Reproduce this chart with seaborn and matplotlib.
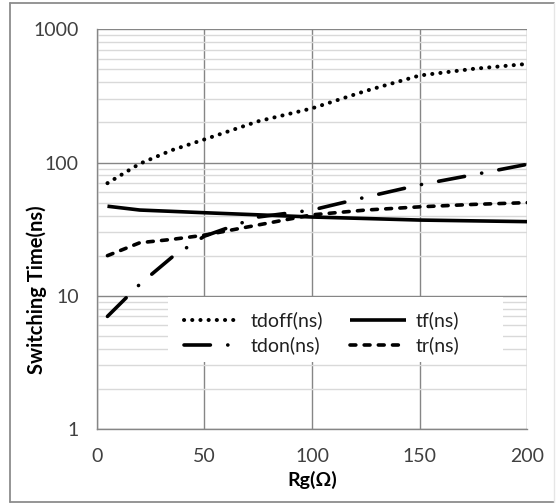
import numpy as np
import pandas as pd
import seaborn as sns
import matplotlib
matplotlib.use("Agg")
import matplotlib.pyplot as plt
from matplotlib.patches import Rectangle
from matplotlib.lines import Line2D
from matplotlib.ticker import LogLocator, FixedLocator, NullFormatter

# ---- data ----
rg = [5, 20, 35, 50, 75, 100, 125, 150, 175, 200]
tdoff = [70, 98, 124, 149, 204, 255, 345, 450, 505, 550]
tf = [47, 44, 43, 42, 40.5, 39, 38, 37, 36.5, 36]
tdon = [7, 12.2, 19.5, 28, 39, 44, 55, 68, 81, 97]
tr = [20, 25, 26.5, 28.5, 34, 40.5, 44, 46.5, 48.5, 50]
series_names = ["tdoff(ns)", "tf(ns)", "tdon(ns)", "tr(ns)"]
x_ticks = [0, 50, 100, 150, 200]
y_ticks = [1, 10, 100, 1000]
y_ticklabels = ["1", "10", "100", "1000"]

sns.set_style("white")
plt.rcParams["font.family"] = ["Lato", "DejaVu Sans"]
plt.rcParams["lines.scale_dashes"] = False

W, H = 556, 504
fig = plt.figure(figsize=(W / 100, H / 100), dpi=100)
L, R, T, B = 96.7, 527.3, 29.3, 429.0
ax = fig.add_axes([L / W, 1 - B / H, (R - L) / W, (B - T) / H])

df = pd.DataFrame({"Rg": rg, "tdoff": tdoff, "tf": tf, "tdon": tdon, "tr": tr})

styles = {
    "tdoff": dict(lw=2.9, ls=(0, (0.1, 5.8)), cap="round"),
    "tf": dict(lw=2.6, ls="-", cap="butt"),
    "tdon": dict(lw=2.6, ls=(0, (19.0, 12.5, 0.1, 12.5)), cap="round"),
    "tr": dict(lw=2.6, ls=(0, (4.2, 6.0)), cap="round"),
}
handles = {}
for key, name in zip(["tdoff", "tf", "tdon", "tr"], series_names):
    st = styles[key]
    sns.lineplot(data=df, x="Rg", y=key, ax=ax, color="black", lw=st["lw"], zorder=3)
    ln = ax.lines[-1]
    ln.set_linestyle(st["ls"])
    ln.set_dash_capstyle(st["cap"])
    ln.set_solid_capstyle("butt")
    ln.set_label(name)
    handles[key] = ln

ax.set_yscale("log")
ax.set_xlim(0, 200)
ax.set_ylim(1, 1000)
ax.xaxis.set_major_locator(FixedLocator(x_ticks))
ax.set_xticklabels([str(v) for v in x_ticks])
ax.yaxis.set_major_locator(FixedLocator(y_ticks))
ax.set_yticklabels(y_ticklabels)
ax.yaxis.set_minor_locator(LogLocator(base=10, subs=np.arange(2, 10)))
ax.yaxis.set_minor_formatter(NullFormatter())

ax.set_axisbelow(True)
ax.grid(True, which="major", axis="both", color="#868686", lw=1.0)
ax.grid(True, which="minor", axis="y", color="#d9d9d9", lw=1.0)

for s in ["top", "right"]:
    ax.spines[s].set_visible(False)
for s in ["left", "bottom"]:
    ax.spines[s].set_color("#868686")
    ax.spines[s].set_linewidth(1.0)

ax.tick_params(axis="both", which="major", length=5, width=1, color="#868686",
               labelsize=14, labelcolor="#404040", direction="out")
ax.tick_params(axis="x", pad=9)
ax.tick_params(axis="y", pad=8)
ax.tick_params(axis="y", which="minor", length=0)

ax.set_xlabel("Rg(Ω)", fontsize=14, fontweight="bold", color="#000000")
ax.set_ylabel("Switching Time(ns)", fontsize=14.5, fontweight="bold", color="#000000")
ax.xaxis.set_label_coords(0.5, (B - 471) / (B - T))
ax.yaxis.set_label_coords((47 - L) / (R - L), (B - 290) / (B - T))
ax.yaxis.label.set_verticalalignment("bottom")

# legend background box
box = Rectangle((168 / W, 1 - 362 / H), (503 - 168) / W, (362 - 297) / H,
                transform=fig.transFigure, facecolor="white", edgecolor="none", zorder=1)
ax.add_patch(box)

leg = ax.legend(handles=[handles["tdoff"], handles["tdon"], handles["tf"], handles["tr"]],
                labels=["tdoff(ns)", "tdon(ns)", "tf(ns)", "tr(ns)"],
                ncol=2, frameon=False, fontsize=14, handlelength=2.9,
                handletextpad=0.5, columnspacing=1.4, labelspacing=0.35,
                borderpad=0, loc="center",
                bbox_to_anchor=(322 / W, 1 - 333 / H), bbox_transform=fig.transFigure)
for t in leg.get_texts():
    t.set_color("#202020")

# outer chart frame
def fl(x0, y0, x1, y1, c, lw):
    fig.add_artist(Line2D([x0 / W, x1 / W], [1 - y0 / H, 1 - y1 / H], color=c, lw=lw,
                          transform=fig.transFigure))
fl(10, 3, 554, 3, "#8c8c8c", 1.3)
fl(10, 3, 10, 502, "#8c8c8c", 1.3)
fl(10, 502, 554, 502, "#8c8c8c", 1.3)
fl(554, 3, 554, 502, "#e6e6e6", 1.0)

fig.savefig("out.png", dpi=100)
